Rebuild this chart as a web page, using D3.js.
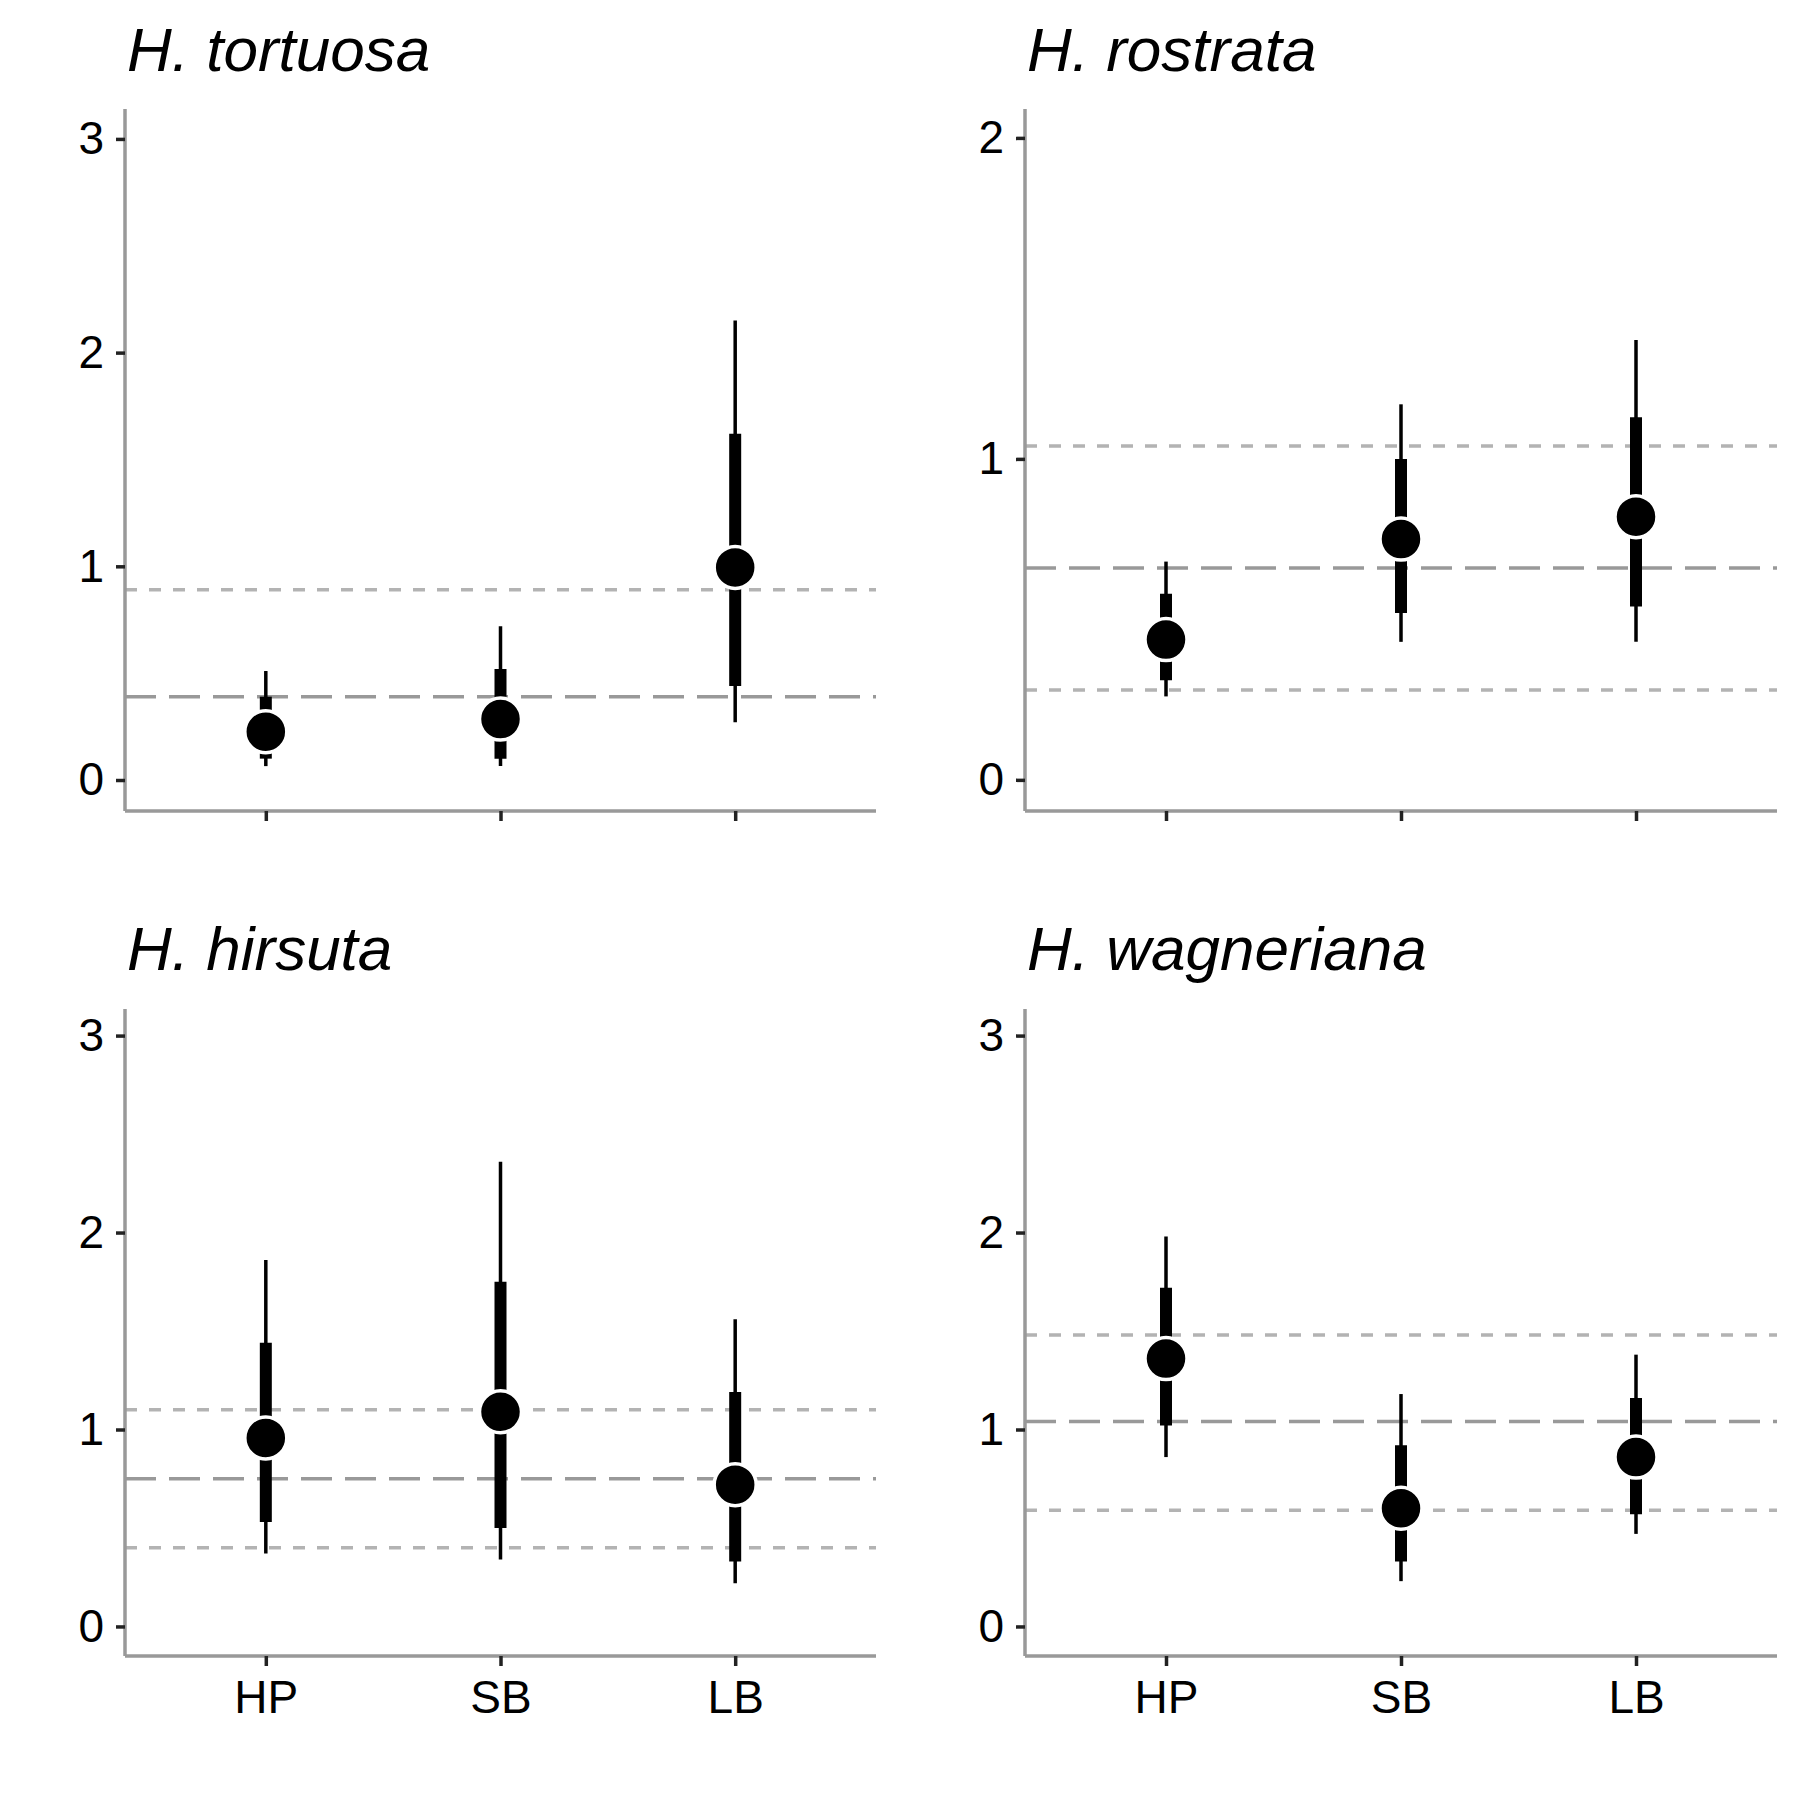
<!DOCTYPE html>
<html><head><meta charset="utf-8">
<script src="https://cdn.jsdelivr.net/npm/d3@7"></script>
<style>body{margin:0;background:#fff}</style></head>
<body><svg id="c" width="1800" height="1800"></svg>
<script>
const categories = ["HP","SB","LB"];
const titles = ["H. tortuosa","H. rostrata","H. hirsuta","H. wagneriana"];
const yTicks = [[0,1,2,3],[0,1,2],[0,1,2,3],[0,1,2,3]];
const yDomains = [[-0.145,3.14],[-0.097,2.09],[-0.15,3.135],[-0.15,3.135]];
const points = [[0.226,0.285,0.995],[0.437,0.75,0.82],[0.957,1.09,0.72],[1.36,0.60,0.86]];
const thinLo = [[0.065,0.065,0.27],[0.26,0.43,0.43],[0.37,0.34,0.22],[0.86,0.23,0.47]];
const thinHi = [[0.51,0.72,2.15],[0.68,1.17,1.37],[1.86,2.36,1.56],[1.98,1.18,1.38]];
const thickLo = [[0.10,0.10,0.44],[0.31,0.52,0.54],[0.53,0.50,0.33],[1.02,0.33,0.57]];
const thickHi = [[0.39,0.52,1.62],[0.58,1.0,1.13],[1.44,1.75,1.19],[1.72,0.92,1.16]];
const meanLine = [0.39,0.66,0.75,1.04];
const ciLines = [[0.89],[1.04,0.28],[1.10,0.40],[1.48,0.59]];

const svg = d3.select("#c");
const font = "Liberation Sans, Arial, sans-serif";
const panels = [
  {x0:125,x1:876,yTop:109,yBot:811,tY:71},
  {x0:1025,x1:1777,yTop:109,yBot:811,tY:71},
  {x0:125,x1:876,yTop:1009,yBot:1656,tY:970},
  {x0:1025,x1:1777,yTop:1009,yBot:1656,tY:970}
];
panels.forEach((p,i)=>{
  const g = svg.append("g");
  const x = d3.scalePoint().domain(categories).range([p.x0,p.x1]).padding(0.6);
  const y = d3.scaleLinear().domain(yDomains[i]).range([p.yBot,p.yTop]);
  g.append("text").attr("x",p.x0+2).attr("y",p.tY).attr("font-family",font).attr("font-style","italic")
    .attr("font-size",62).text(titles[i]);
  ciLines[i].forEach(v=>g.append("line").attr("x1",p.x0).attr("x2",p.x1).attr("y1",y(v)).attr("y2",y(v))
    .attr("stroke","#b3b3b3").attr("stroke-width",3.5).attr("stroke-dasharray","12,12"));
  g.append("line").attr("x1",p.x0).attr("x2",p.x1).attr("y1",y(meanLine[i])).attr("y2",y(meanLine[i]))
    .attr("stroke","#999").attr("stroke-width",3.5).attr("stroke-dasharray","31,13");
  const ya = g.append("g").attr("transform",`translate(${p.x0},0)`).call(d3.axisLeft(y).tickValues(yTicks[i]).tickSize(9).tickPadding(12).tickFormat(d3.format("d")));
  const xa = g.append("g").attr("transform",`translate(0,${p.yBot})`).call(d3.axisBottom(x).tickSize(10).tickPadding(14));
  ya.select(".domain").attr("d",`M0,${p.yTop}V${p.yBot}`);
  xa.select(".domain").attr("d",`M${p.x0},0H${p.x1}`);
  [ya,xa].forEach(a=>{a.select(".domain").attr("stroke","#999").attr("stroke-width",3.5);
    a.selectAll(".tick line").attr("stroke","#222").attr("stroke-width",3.5);
    a.selectAll(".tick text").attr("font-family",font).attr("font-size",46).attr("fill","#000");});
  if(i<2) xa.selectAll(".tick text").remove();
  categories.forEach((c,j)=>{
    g.append("line").attr("x1",x(c)).attr("x2",x(c)).attr("y1",y(thinLo[i][j])).attr("y2",y(thinHi[i][j]))
      .attr("stroke","#000").attr("stroke-width",3.5);
    g.append("line").attr("x1",x(c)).attr("x2",x(c)).attr("y1",y(thickLo[i][j])).attr("y2",y(thickHi[i][j]))
      .attr("stroke","#000").attr("stroke-width",12);
    g.append("circle").attr("cx",x(c)).attr("cy",y(points[i][j])).attr("r",21)
      .attr("fill","#000").attr("stroke","#fff").attr("stroke-width",3.5);
  });
});
</script></body></html>
